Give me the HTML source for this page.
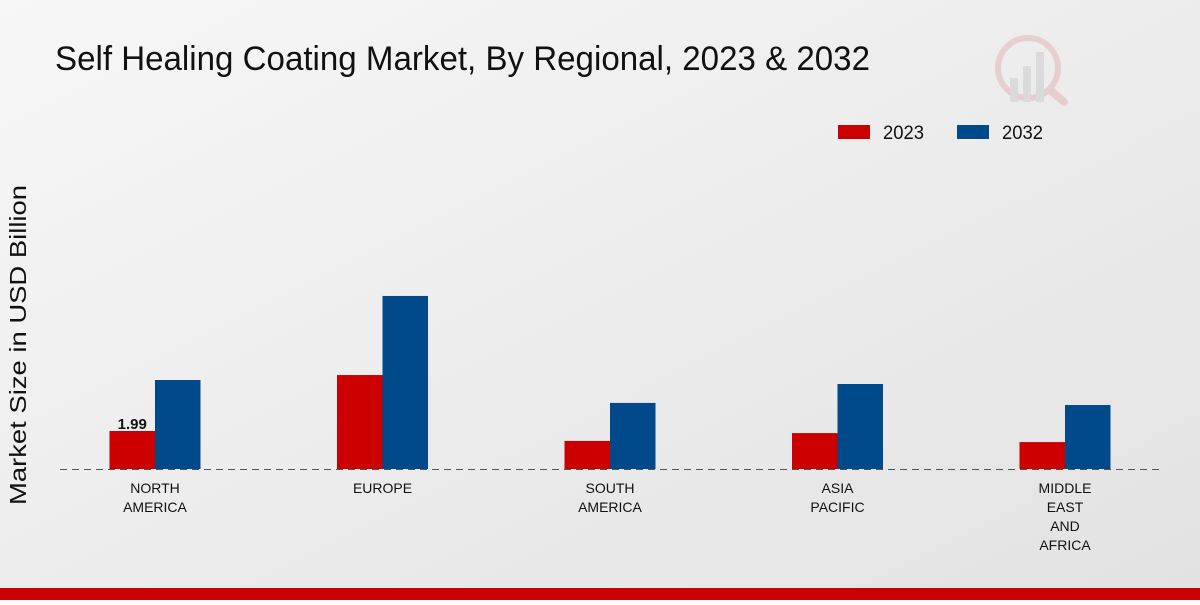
<!DOCTYPE html>
<html><head><meta charset="utf-8"><style>
body{margin:0;width:1200px;height:600px;overflow:hidden;font-family:"Liberation Sans",sans-serif}
</style></head><body>
<svg id="chart" width="1200" height="600" xmlns="http://www.w3.org/2000/svg">
<defs><linearGradient id="bg" x1="0" y1="0" x2="1" y2="1"><stop offset="0" stop-color="#f7f7f7"/><stop offset="1" stop-color="#e2e2e2"/></linearGradient></defs>
<rect width="1200" height="600" fill="url(#bg)"/>
<text x="55" y="70" font-size="34" textLength="815" lengthAdjust="spacingAndGlyphs" fill="#111">Self Healing Coating Market, By Regional, 2023 &amp; 2032</text>
<g opacity="0.35">
<circle cx="1028" cy="68" r="30" fill="none" stroke="#d99" stroke-width="6"/>
<rect x="1010" y="78" width="8" height="24" fill="#bbb"/><rect x="1023" y="66" width="8" height="36" fill="#bbb"/><rect x="1036" y="52" width="8" height="50" fill="#bbb"/>
<line x1="1050" y1="90" x2="1064" y2="102" stroke="#d99" stroke-width="8" stroke-linecap="round"/>
</g>
<g>
<rect x="838" y="125" width="32" height="14" fill="#cc0000"/>
<text x="883" y="139" font-size="19" fill="#111" textLength="41" lengthAdjust="spacingAndGlyphs">2023</text>
<rect x="957" y="125" width="32" height="14" fill="#004a8c"/>
<text x="1002" y="139" font-size="19" fill="#111" textLength="41" lengthAdjust="spacingAndGlyphs">2032</text>
</g>
<text transform="translate(26,345) rotate(-90)" text-anchor="middle" font-size="23" fill="#111" textLength="320" lengthAdjust="spacingAndGlyphs">Market Size in USD Billion</text>
<line x1="60" y1="469.5" x2="1160" y2="469.5" stroke="#555" stroke-dasharray="7,5"/>
<g id="bars"></g>
<g id="xlabels"></g>
<rect x="0" y="588" width="1200" height="12" fill="#cc0000"/>
</svg>
<script>
const categories=[["NORTH","AMERICA"],["EUROPE"],["SOUTH","AMERICA"],["ASIA","PACIFIC"],["MIDDLE","EAST","AND","AFRICA"]];
const values2023=[1.99,4.92,1.47,1.88,1.41];
const values2032=[4.66,9.06,3.46,4.45,3.35];
const printed=["1.99",null,null,null,null];
const NS="http://www.w3.org/2000/svg";
const base=469,scale=19.1,x0=155,step=227.5,bw=45.5;
const xs=i=>x0+i*step, ys=v=>base-v*scale;
const bars=document.getElementById('bars'),xl=document.getElementById('xlabels');
function mk(t,a){const e=document.createElementNS(NS,t);for(const k in a)e.setAttribute(k,a[k]);return e;}
categories.forEach((c,i)=>{
 const r1=mk('rect',{x:xs(i)-bw,y:ys(values2023[i]),width:bw,height:values2023[i]*scale,fill:'#cc0000'});
 
 
 bars.appendChild(r1);
 const r2=mk('rect',{x:xs(i),y:ys(values2032[i]),width:bw,height:values2032[i]*scale,fill:'#004a8c'});
 
 
 bars.appendChild(r2);
 if(printed[i]){const t=mk('text',{x:xs(i)-bw/2,y:ys(values2023[i])-2,'text-anchor':'middle','font-size':15,'font-weight':'bold',fill:'#111'});t.textContent=printed[i];
 
 
 bars.appendChild(t);}
 c.forEach((line,j)=>{const t=mk('text',{x:xs(i),y:493+j*19,'text-anchor':'middle','font-size':14,fill:'#111'});t.textContent=line;
 
 
 xl.appendChild(t);});
});
</script>
</body></html>
